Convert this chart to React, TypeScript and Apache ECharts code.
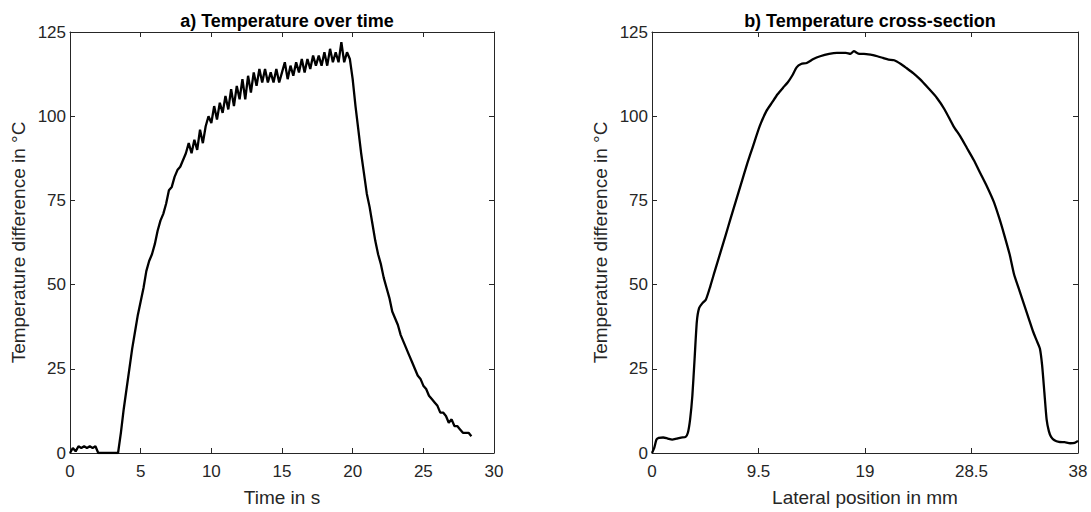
import React, { useEffect, useRef } from "react";
import * as echarts from "echarts";

// a) Temperature over time
const timeA = [
  0, 0.2, 0.4, 0.6, 0.8, 1.0, 1.2, 1.4, 1.6, 1.8, 2.0, 2.2, 2.4, 2.6, 2.8, 3.0, 3.2, 3.4,
  3.6, 3.8, 4.0, 4.2, 4.4, 4.6, 4.8, 5.0, 5.2, 5.4, 5.6, 5.8, 6.0, 6.2, 6.4, 6.6, 6.8, 7.0,
  7.2, 7.4, 7.6, 7.8, 8.0, 8.2, 8.4, 8.6, 8.8, 9.0, 9.2, 9.4, 9.6, 9.8, 10.0, 10.2, 10.4,
  10.6, 10.8, 11.0, 11.2, 11.4, 11.6, 11.8, 12.0, 12.2, 12.4, 12.6, 12.8, 13.0, 13.2, 13.4,
  13.6, 13.8, 14.0, 14.2, 14.4, 14.6, 14.8, 15.0, 15.2, 15.4, 15.6, 15.8, 16.0, 16.2, 16.4,
  16.6, 16.8, 17.0, 17.2, 17.4, 17.6, 17.8, 18.0, 18.2, 18.4, 18.6, 18.8, 19.0, 19.2, 19.4,
  19.6, 19.8, 20.0, 20.2, 20.4, 20.6, 20.8, 21.0, 21.2, 21.4, 21.6, 21.8, 22.0, 22.2, 22.4,
  22.6, 22.8, 23.0, 23.2, 23.4, 23.6, 23.8, 24.0, 24.2, 24.4, 24.6, 24.8, 25.0, 25.2, 25.4,
  25.6, 25.8, 26.0, 26.2, 26.4, 26.6, 26.8, 27.0, 27.2, 27.4, 27.6, 27.8, 28.0, 28.2, 28.4,
];
const tempA = [
  0, 1.5, 0.5, 2, 1.5, 2, 1.5, 2, 1.5, 2, 0, 0, 0, 0, 0, 0, 0, 0,
  6, 13, 19, 25, 31, 36, 41, 45, 49, 54, 57, 59, 62, 66, 69, 71, 74, 78,
  79, 82, 84, 85, 87, 89, 92, 89, 93, 90, 96, 92, 97, 100, 98, 103, 99,
  104, 101, 106, 102, 108, 103, 109, 105, 111, 105, 112, 107, 113, 109, 114,
  110, 114, 110, 113, 110, 114, 110, 113, 116, 111, 115, 112, 116, 113, 117,
  113, 117, 114, 118, 115, 118, 115, 119, 115, 120, 116, 119, 116, 122, 116,
  119, 117, 111, 103, 96, 89, 83, 77, 73, 68, 63, 59, 56, 52, 49,
  46, 42, 40, 38, 35, 33, 31, 29, 27, 25, 23, 22, 20, 19, 17,
  16, 15, 14, 12, 12, 11, 9, 10, 8, 8, 7, 6, 6, 6, 5,
];

// b) Temperature cross-section
const posB = [
  0, 0.2, 0.4, 0.6, 1.0, 1.4, 1.8, 2.2, 2.6, 3.0, 3.2, 3.4, 3.6, 3.8, 4.0, 4.2, 4.5, 4.8,
  5.2, 5.6, 6.1, 6.6, 7.0, 7.5, 8.0, 8.5, 9.0, 9.6, 10.2, 10.7, 11.2, 11.7, 12.1, 12.5,
  12.9, 13.3, 13.8, 14.4, 15.0, 15.8, 16.5, 17.3, 17.7, 18.0, 18.4, 18.9, 19.5, 20.1,
  20.6, 21.1, 21.6, 22.2, 22.7, 23.3, 23.9, 24.6, 25.4, 26.1, 26.9, 27.5, 28.1, 28.7,
  29.3, 29.9, 30.5, 31.0, 31.4, 31.9, 32.3, 32.8, 33.2, 33.6, 34.0, 34.3, 34.6, 34.8,
  35.0, 35.2, 35.4, 35.6, 35.9, 36.3, 36.8, 37.3, 37.7, 38.0,
];
const tempB = [
  0, 1.5, 4, 4.5, 4.6, 4.3, 4.0, 4.3, 4.6, 4.8, 6, 10, 17, 28, 39, 43, 44.5, 45.5,
  49.5, 54, 59.5, 65, 69.5, 75, 80.5, 86, 91, 97, 101.5, 104, 106.5, 108.5, 110, 112,
  114.5, 115.5, 115.8, 117, 117.8, 118.5, 118.8, 118.8, 118.5, 119.3, 118.6, 118.5, 118.3, 117.8,
  117.3, 116.8, 116.6, 115.5, 114.3, 112.8, 111, 108.5, 105.5, 102, 97, 94, 90.5, 87,
  83, 79, 74.5, 69.5, 65, 59, 53, 48, 44, 40, 36, 33.5, 31, 26,
  18, 10, 6.5, 4.8, 3.8, 3.3, 3.2, 2.9, 3.0, 3.6,
];

const titles = ["a) Temperature over time", "b) Temperature cross-section"];
const xNames = ["Time in s", "Lateral position in mm"];
const yName = "Temperature difference in °C";

const FONT = "Liberation Sans, Arial, Helvetica, sans-serif";
const AXC = "#262626";

export default function App() {
  const ref = useRef<HTMLDivElement>(null);
  useEffect(() => {
    if (!ref.current) return;
    const chart = echarts.init(ref.current, null, { renderer: "svg" });
    const grids = [
      { left: 70, top: 32, width: 424, height: 421 },
      { left: 652, top: 32, width: 426, height: 421 },
    ];
    const xRanges = [
      { min: 0, max: 30, interval: 5 },
      { min: 0, max: 38, interval: 9.5 },
    ];
    const xAxes: any[] = [];
    const yAxes: any[] = [];
    [0, 1].forEach((g) => {
      const base = {
        type: "value",
        gridIndex: g,
        ...xRanges[g],
        splitLine: { show: false },
        axisLine: { show: true, onZero: false, lineStyle: { color: AXC, width: 1 } },
        axisTick: { show: true, inside: true, length: 5, lineStyle: { color: AXC } },
      };
      xAxes.push({
        ...base,
        position: "bottom",
        name: xNames[g],
        nameLocation: "middle",
        nameGap: 35,
        nameTextStyle: { color: AXC, fontSize: 19, fontFamily: FONT },
        axisLabel: { color: AXC, fontSize: 17, fontFamily: FONT, margin: 10 },
      });
      xAxes.push({ ...base, position: "top", axisLabel: { show: false } });
      const ybase = {
        type: "value",
        gridIndex: g,
        min: 0,
        max: 125,
        interval: 25,
        splitLine: { show: false },
        axisLine: { show: true, onZero: false, lineStyle: { color: AXC, width: 1 } },
        axisTick: { show: true, inside: true, length: 5, lineStyle: { color: AXC } },
      };
      yAxes.push({
        ...ybase,
        position: "left",
        name: yName,
        nameLocation: "middle",
        nameGap: 42,
        nameTextStyle: { color: AXC, fontSize: 19, fontFamily: FONT },
        axisLabel: { color: AXC, fontSize: 17, fontFamily: FONT, margin: 4 },
      });
      yAxes.push({ ...ybase, position: "right", axisLabel: { show: false } });
    });
    chart.setOption({
      animation: false,
      backgroundColor: "#ffffff",
      title: [0, 1].map((g) => ({
        text: titles[g],
        left: grids[g].left + grids[g].width / 2,
        top: 7,
        textAlign: "center",
        textStyle: { fontSize: 18, fontWeight: "bold", color: "#000", fontFamily: FONT },
      })),
      grid: grids,
      xAxis: xAxes,
      yAxis: yAxes,
      series: [
        {
          type: "line",
          xAxisIndex: 0,
          yAxisIndex: 0,
          data: timeA.map((t, i) => [t, tempA[i]]),
          showSymbol: false,
          lineStyle: { color: "#000", width: 2.3 },
        },
        {
          type: "line",
          xAxisIndex: 2,
          yAxisIndex: 2,
          data: posB.map((p, i) => [p, tempB[i]]),
          showSymbol: false,
          smooth: 0.2,
          lineStyle: { color: "#000", width: 2.3 },
        },
      ],
    });
    return () => chart.dispose();
  }, []);
  return (
    <div
      ref={ref}
      style={{ position: "fixed", left: 0, top: 0, width: 1091, height: 512, background: "#fff" }}
    />
  );
}
